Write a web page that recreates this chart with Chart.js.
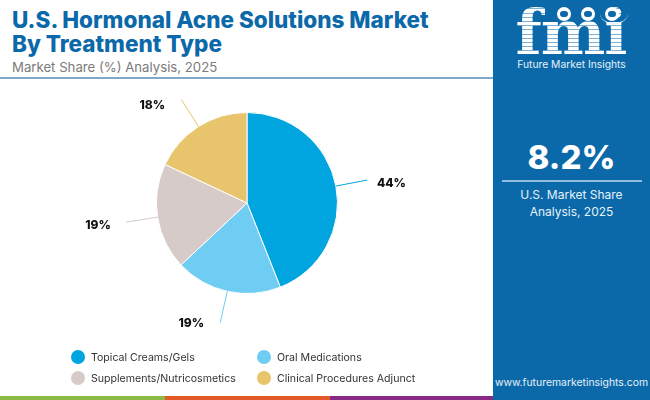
<!DOCTYPE html>
<html>
<head>
<meta charset="utf-8">
<script src="https://cdn.jsdelivr.net/npm/chart.js@4"></script>
<style>
  html, body { margin: 0; padding: 0; background: #fff; }
  #page { position: relative; width: 650px; height: 400px; overflow: hidden; font-family: Inter, sans-serif; }
  #page div { position: absolute; white-space: nowrap; }
  #chartBox { left: 0; top: 0; width: 650px; height: 400px; }
  .title { left: 12px; color: #0b69a9; font-size: 22.5px; font-weight: 800; line-height: 25px; }
  .sub { left: 12px; top: 58px; color: #7b7b7b; font-size: 13.2px; line-height: 18px; }
  .rule { left: 0; top: 77px; width: 493px; height: 2px; background: #7fa9cc; }
  .panel { left: 493px; top: 0; width: 157px; height: 400px; background: #0b69a9; }
  .center { left: 493px; width: 157px; text-align: center; color: #e6f1f9; }
  .swatch { width: 14px; height: 14px; border-radius: 50%; }
  .legendText { font-size: 10.6px; line-height: 14px; color: #333; }
  .strip { top: 396px; width: 165px; height: 4px; }
  .fmi { left: 514px; top: 1px; width: 114px; text-align: center; font-family: "DejaVu Serif", serif; font-weight: 700; font-size: 61px; line-height: 64px; letter-spacing: -1px;
         color: transparent; background: repeating-linear-gradient(#fff 0 3.2px, #7fb1d6 3.2px 4.2px); -webkit-background-clip: text; background-clip: text; }
  .globe { top: 7px; width: 14px; height: 14px; border-radius: 50%; background: #fff; }
  .globe div { left: 3px; top: 4px; width: 8px; height: 6px; border-radius: 3px; background: #0b69a9; }
  .smile { left: 600px; top: 3px; width: 28px; height: 20px; border-bottom: 1px solid #e6f1f9; border-radius: 50%; }
</style>
</head>
<body>
<div id="page">
  <div class="title" style="top:7px">U.S. Hormonal Acne Solutions Market</div>
  <div class="title" style="top:31px">By Treatment Type</div>
  <div class="sub">Market Share (%) Analysis, 2025</div>
  <div class="rule"></div>

  <div class="panel"></div>
  <div class="fmi">fmi</div>
  <div class="smile"></div>
  <div class="globe" style="left:557px"><div></div></div>
  <div class="globe" style="left:581px"><div></div></div>
  <div class="globe" style="left:605px"><div></div></div>
  <div class="center" style="top:58px;font-size:10.3px;line-height:13px">Future Market Insights</div>
  <div class="center" style="top:137px;font-size:33px;line-height:40px;font-weight:800;color:#fff">8.2%</div>
  <div style="left:502px;top:180px;width:140px;height:2px;background:#8fbde0"></div>
  <div class="center" style="top:187px;font-size:12px;line-height:16px">U.S. Market Share</div>
  <div class="center" style="top:204px;font-size:12px;line-height:16px">Analysis, 2025</div>
  <div class="center" style="top:376px;font-size:10.4px;line-height:14px">www.futuremarketinsights.com</div>

  <div class="strip" style="left:0;background:#8bbb45"></div>
  <div class="strip" style="left:165px;background:#e2592a"></div>
  <div class="strip" style="left:330px;width:163px;background:#862a85"></div>

  <div id="chartBox"><canvas id="pieChart" width="650" height="400"></canvas></div>
</div>

<script>
  var categories = ["Topical Creams/Gels", "Oral Medications", "Supplements/Nutricosmetics", "Clinical Procedures Adjunct"];
  var shares = [44, 19, 19, 18];
  var colors = ["#00a5df", "#6fcdf3", "#d6cbc8", "#e8c46c"];

  // legend rows, two columns
  var page = document.getElementById("page");
  categories.forEach(function (name, i) {
    var x = i % 2 === 0 ? 71 : 257;
    var y = i < 2 ? 350 : 371;
    var dot = document.createElement("div");
    dot.className = "swatch";
    dot.style.left = x + "px";
    dot.style.top = y + "px";
    dot.style.background = colors[i];
    page.appendChild(dot);
    var text = document.createElement("div");
    text.className = "legendText";
    text.style.left = x + 20 + "px";
    text.style.top = y + 1 + "px";
    text.textContent = name;
    page.appendChild(text);
  });

  // radial leader lines and % labels
  var leaderLabels = {
    id: "leaderLabels",
    afterDatasetsDraw: function (chart) {
      var c = chart.ctx;
      chart.getDatasetMeta(0).data.forEach(function (arc, i) {
        var mid = (arc.startAngle + arc.endAngle) / 2;
        var sin = Math.sin(mid);
        var x1 = arc.x + Math.cos(mid) * arc.outerRadius;
        var y1 = arc.y + sin * arc.outerRadius;
        var x2 = arc.x + Math.cos(mid) * (arc.outerRadius + 32);
        var y2 = arc.y + sin * (arc.outerRadius + 32);
        // labels near the top and bottom of the pie sit a bit further out
        var dx = Math.cos(mid) > 0 ? 24 : Math.abs(sin) > 0.8 ? -29 : -28;
        var dy = sin > 0.8 ? 1 : sin < -0.8 ? 6 : 3;
        c.save();
        c.strokeStyle = colors[i];
        c.lineWidth = 1;
        c.beginPath();
        c.moveTo(x1, y1);
        c.lineTo(x2, y2);
        c.stroke();
        c.fillStyle = "#111";
        c.font = "800 12px Inter";
        c.textAlign = "center";
        c.textBaseline = "middle";
        c.fillText(shares[i] + "%", x2 + dx, y2 + dy);
        c.restore();
      });
    },
  };

  var ctx = document.getElementById("pieChart");
  var myChart = new Chart(ctx, {
    type: "pie",
    data: {
      labels: categories,
      datasets: [
        {
          data: shares,
          backgroundColor: colors,
          borderColor: "#ffffff",
          borderWidth: 1,
        },
      ],
    },
    options: {
      responsive: false,
      animation: false,
      layout: { padding: { left: 156, right: 312, top: 112, bottom: 106 } },
      plugins: { legend: { display: false }, tooltip: { enabled: false } },
    },
    plugins: [leaderLabels],
  });
</script>
</body>
</html>
